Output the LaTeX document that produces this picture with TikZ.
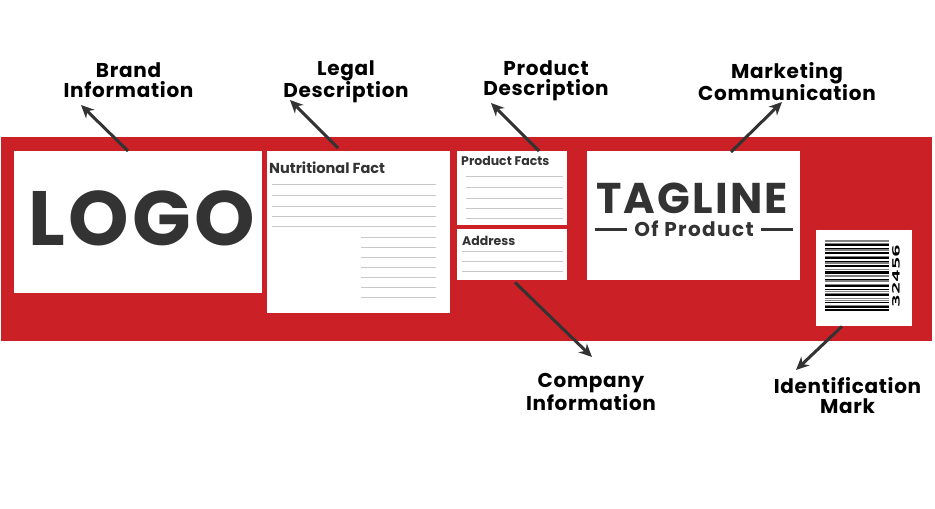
\documentclass[tikz,border=0pt]{standalone}
\usepackage{fontspec}
\setmainfont{Poppins}
\newfontfamily\barfont{DejaVu Sans Mono}
\usepackage{xcolor}
\usepackage{tikz}
\usetikzlibrary{arrows.meta, positioning}
\definecolor{bandred}{HTML}{CC2027}
\definecolor{ink}{HTML}{333333}
\definecolor{rulegray}{HTML}{C8C8C8}
\tikzset{
  panel/.style={fill=white, inner sep=0pt, anchor=north west},
  tag/.style={align=center, inner sep=0pt, anchor=north, font=\bfseries\fontsize{20}{20}\selectfont\addfontfeature{LetterSpace=3.5}},
  ptr/.style={-{Stealth[length=13pt, width=12pt]}, line width=3pt, ink},
  rule/.style={rulegray, line width=1pt},
  boxtext/.style={inner sep=0pt, anchor=base west, text=ink, font=\bfseries\fontsize{12.5}{12.5}\selectfont},
}

\begin{document}
\begin{tikzpicture}[x=1pt, y=-1pt]
\useasboundingbox (0,0) rectangle (935,509);
% Red label strip
\node[fill=bandred, inner sep=0pt, anchor=north west, minimum width=931pt, minimum height=204pt] (band) at (1,137) {};
% Panels on the strip
\node[panel, minimum width=248pt, minimum height=142pt] (logo) at (14,151) {};
\node[panel, minimum width=183pt, minimum height=162pt] (nutri) at (267,151) {};
\node[panel, minimum width=110pt, minimum height=74pt] (pfacts) at (457,151) {};
\node[panel, minimum width=110pt, minimum height=51pt] (addr) at (457,229) {};
\node[panel, minimum width=213pt, minimum height=129pt] (tagline) at (587,151) {};
\node[panel, minimum width=96pt, minimum height=96pt] (barcode) at (816,230) {};
% Texts inside panels
\node[inner sep=0pt, anchor=base, text=ink, font=\bfseries\fontsize{77}{77}\selectfont\addfontfeature{LetterSpace=4.5}] (logotext) at (142,245) {LOGO};
\node[boxtext, font=\bfseries\fontsize{14.5}{14.5}\selectfont] (nutritext) at (269,173) {Nutritional Fact};
\node[boxtext] (pfactstext) at (461,165) {Product Facts};
\node[boxtext] (addrtext) at (462,245) {Address};
\node[inner sep=0pt, anchor=base, text=ink, text height=30pt, text depth=0pt, font=\bfseries\fontsize{43}{43}\selectfont\addfontfeature{LetterSpace=5}] (tagtext) at (692,213) {TAGLINE};
\node[inner sep=0pt, anchor=base, text=ink, text height=14pt, text depth=0pt, font=\bfseries\fontsize{20}{20}\selectfont\addfontfeature{LetterSpace=7}] (oftext) at (694,236.7) {Of Product};
\draw[ink, line width=2.5pt] ([xshift=-7pt]oftext.west) -- ++(-32,0);
\draw[ink, line width=2.5pt] ([xshift=7pt]oftext.east) -- ++(32,0);
% Ruled lines
\foreach \y in {184,195,206,216,226}
  \draw[rule] (272,\y) -- (436,\y);
\foreach \y in {237,247,257,267,277,287,297}
  \draw[rule] (361,\y) -- (436,\y);
\foreach \y in {176,187,198,208,218}
  \draw[rule] (466,\y) -- (563,\y);
\foreach \y in {251,261,271}
  \draw[rule] (462,\y) -- (563,\y);
% Barcode bars
\foreach \y/\w/\c in {241/1.2/gray, 243/1/gray, 245/1.5/black, 248/1/black, 250/1.2/gray,
    253/2/black, 256/1/gray, 258/1.5/black, 261/1/black, 263/1.5/gray, 266/2/black,
    269/1/gray, 271/1/black, 273/1.5/black, 276/1.2/gray, 279/1/black, 281/2/gray,
    284/1/gray, 286/1.5/black, 289/1/black, 291/1/gray, 293/1/gray, 295/1.5/black,
    298/1/gray, 300/1/gray, 302/1/black, 305/1/gray, 307/2/black, 310/1.5/black}
  \draw[\c, line width=\w pt] (825,\y) -- (889,\y);
\node[inner sep=0pt, rotate=90, xscale=2.1, font=\barfont\bfseries\fontsize{10}{10}\selectfont] (digits) at (896,276) {32456};
% Callout labels
\node[tag] (brand) at (128.5,62) {Brand\\Information};
\node[tag] (legal) at (346,60) {Legal\\Description};
\node[tag] (product) at (546,60) {Product\\Description};
\node[tag] (marketing) at (787,62) {Marketing\\Communication};
\node[tag] (company) at (591,373.5) {Company\\Information};
\node[tag] (ident) at (847.5,377) {Identification\\Mark};
% Arrow tips
\coordinate (brandtip) at (81,105);
\coordinate (legaltip) at (290,100);
\coordinate (producttip) at (491,103);
\coordinate (markettip) at (782,102);
\coordinate (companytip) at (592,357);
\coordinate (identtip) at (796,370);
% Pointers
\draw[ptr] ([xshift=114pt]logo.north west) -- (brandtip);
\draw[ptr] ([xshift=71pt, yshift=3pt]nutri.north west) -- (legaltip);
\draw[ptr] ([xshift=82pt]pfacts.north west) -- (producttip);
\draw[ptr] ([xshift=144pt, yshift=-1pt]tagline.north west) -- (markettip);
\draw[ptr] ([xshift=58pt, yshift=-2pt]addr.south west) -- (companytip);
\draw[ptr] ([xshift=26pt]barcode.south west) -- (identtip);
\end{tikzpicture}
\end{document}
